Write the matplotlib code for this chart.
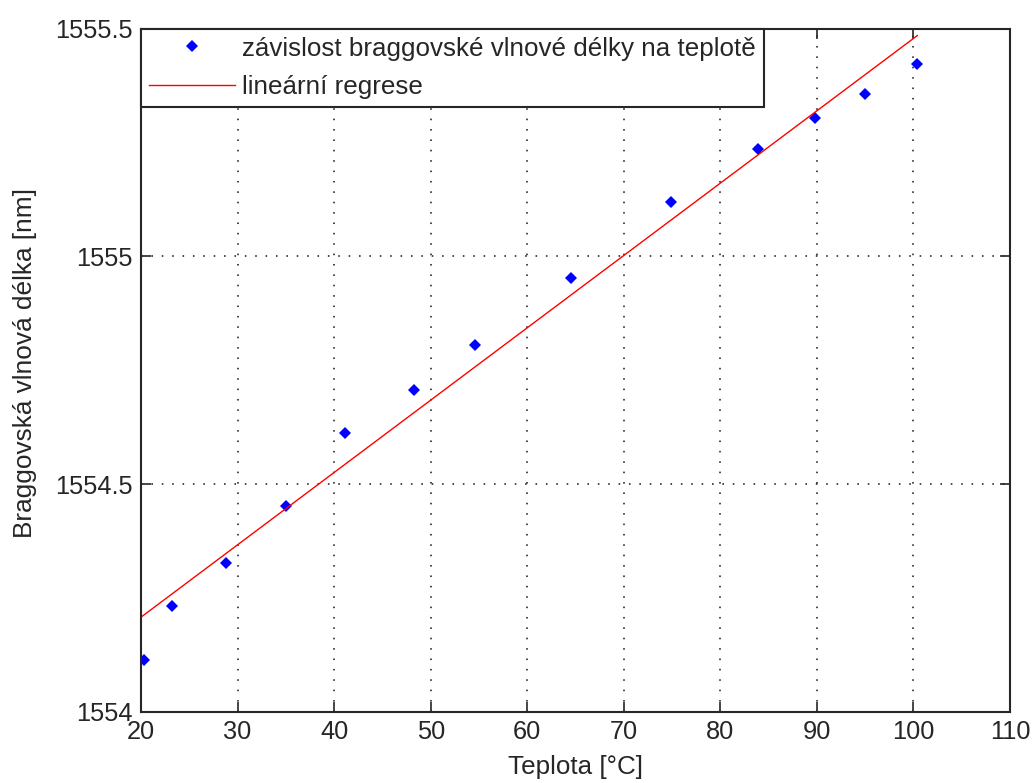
import numpy as np
import matplotlib.pyplot as plt
from matplotlib.ticker import FormatStrFormatter

plt.rcParams['font.family'] = ['Liberation Sans', 'DejaVu Sans']

# measured temperature [deg C] and Bragg wavelength [nm]
teplota = [20.3, 23.2, 28.8, 35.0, 41.1, 48.3, 54.6, 64.5, 74.9, 83.9, 89.8, 95.0, 100.4]
vlnova_delka = [1554.114, 1554.232, 1554.326, 1554.452, 1554.611, 1554.707, 1554.805,
                1554.953, 1555.120, 1555.235, 1555.305, 1555.357, 1555.423]

x_ticks = [20, 30, 40, 50, 60, 70, 80, 90, 100, 110]
y_ticks = [1554, 1554.5, 1555, 1555.5]

x = np.array(teplota)
y = np.array(vlnova_delka)
k, q = np.polyfit(x, y, 1)
x_fit = np.array([20.0, x.max()])
y_fit = k * x_fit + q

fig = plt.figure(figsize=(10.34, 7.83), dpi=100)
ax = fig.add_axes([0.1364, 0.0911, 0.8404, 0.8722])

ax.plot(x, y, linestyle='none', marker='D', markersize=6.3, color='#0000ff',
        markeredgewidth=0, label='závislost braggovské vlnové délky na teplotě')
ax.plot(x_fit, y_fit, color='#ff0000', linewidth=1.0, label='lineární regrese')

ax.set_xlim(20, 110)
ax.set_ylim(1554, 1555.5)
ax.set_xticks(x_ticks)
ax.set_yticks(y_ticks)
ax.yaxis.set_major_formatter(FormatStrFormatter('%g'))

ax.grid(True, color='#202020', linestyle=(0, (1, 5.5)), linewidth=1.15)
ax.tick_params(direction='in', length=7, width=1.2, top=True, right=True,
               labelsize=18.3, colors='#262626', pad=6)
for s in ax.spines.values():
    s.set_linewidth(1.5)
    s.set_color('#262626')

ax.set_xlabel('Teplota [°C]', fontsize=18.7, color='#262626', labelpad=8)
ax.set_ylabel('Braggovská vlnová délka [nm]', fontsize=18.9, color='#262626', labelpad=13)
ax.yaxis.label.set_y(0.511)

leg = ax.legend(loc='upper left', bbox_to_anchor=(0, 1), borderaxespad=0,
                fontsize=18.7, fancybox=False, framealpha=1, edgecolor='#262626',
                handlelength=3.3, handletextpad=0.3, labelspacing=0.55,
                borderpad=0.3)
leg.get_frame().set_linewidth(1.5)
for t in leg.get_texts():
    t.set_color('#262626')

fig.savefig('out.png', dpi=100)
